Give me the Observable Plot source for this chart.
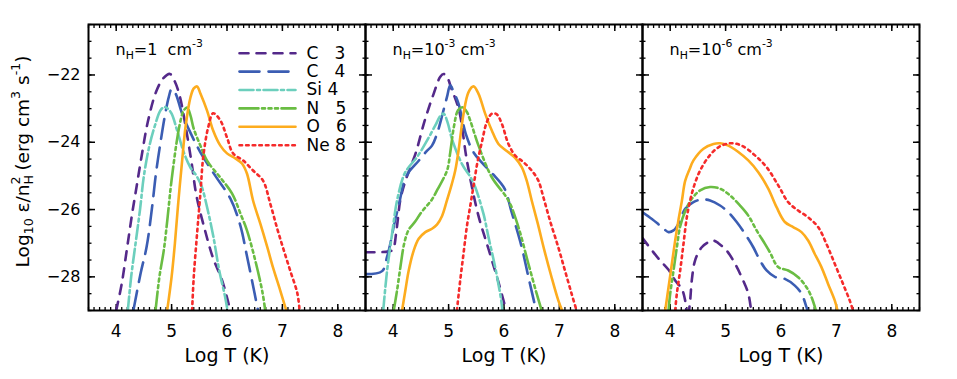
<!DOCTYPE html>
<html><head><meta charset="utf-8">
<script src="https://cdn.jsdelivr.net/npm/d3@7"></script>
<script src="https://cdn.jsdelivr.net/npm/@observablehq/plot@0.6"></script>
<style>
body{margin:0;background:#fff;}
#chart{width:957px;height:379px;}
</style></head><body><div id="chart"></div>
<script>
// ---------- data ----------
const panelKeys = ["1", "1e-3", "1e-6"];
const panelTitles = ["n_{H}=1\u00a0 cm^{-3}", "n_{H}=10^{-3} cm^{-3}", "n_{H}=10^{-6} cm^{-3}"];
const ionElements = ["C", "C", "Si", "N", "O", "Ne"];
const ionStages = ["3", "4", "4", "5", "6", "8"];
const xMajor = [4, 5, 6, 7, 8];
const yMajor = [-28, -26, -24, -22];
const xLabel = "Log T (K)";
const yLabel = "Log_{10} ε/n_{H}^{2} (erg cm^{3} s^{-1})";

// panel nH = 1 cm^-3  : [log T, log emissivity]
const n1_C3 = [[4.0,-29],[4.1,-28.2],[4.2,-27.1],[4.29,-26.1],[4.37,-25.3],[4.46,-24.4],[4.57,-23.4],[4.72,-22.5],[4.85,-22.1],[4.97,-21.97],[5.06,-22.2],[5.15,-22.65],[5.25,-23.5],[5.36,-24.6],[5.45,-25.6],[5.6,-26.6],[5.75,-27.45],[5.9,-28.05],[5.99,-28.55],[6.06,-29]];
const n1_C4 = [[4.31,-29],[4.44,-27.9],[4.55,-27.1],[4.65,-25.9],[4.72,-24.9],[4.8,-24.0],[4.88,-23.2],[4.95,-22.65],[5.0,-22.42],[5.07,-22.55],[5.19,-23.15],[5.35,-23.75],[5.52,-24.3],[5.79,-25.0],[6.06,-25.67],[6.24,-26.47],[6.35,-27.3],[6.45,-28.1],[6.56,-29]];
const n1_Si4 = [[4.21,-29],[4.27,-28.0],[4.35,-27.0],[4.43,-26.0],[4.5,-25.0],[4.6,-24.1],[4.7,-23.5],[4.8,-23.05],[4.87,-22.95],[4.93,-23.0],[5.0,-23.15],[5.1,-23.65],[5.22,-24.3],[5.34,-24.75],[5.45,-25.0],[5.54,-25.3],[5.65,-26.0],[5.75,-26.77],[5.86,-27.81],[5.96,-28.55],[6.01,-29]];
const n1_N5 = [[4.71,-29],[4.78,-28.0],[4.86,-27.2],[4.93,-26.2],[4.98,-25.4],[5.04,-24.6],[5.1,-23.9],[5.17,-23.3],[5.22,-23.05],[5.28,-22.97],[5.34,-23.2],[5.4,-23.6],[5.52,-24.1],[5.64,-24.55],[5.88,-25.05],[6.09,-25.52],[6.25,-26.15],[6.36,-26.62],[6.51,-27.51],[6.64,-28.46],[6.69,-29]];
const n1_O6 = [[4.92,-29],[5.0,-28.0],[5.06,-27.0],[5.12,-25.8],[5.19,-24.55],[5.25,-23.56],[5.34,-22.67],[5.4,-22.4],[5.46,-22.34],[5.52,-22.55],[5.64,-23.06],[5.75,-23.65],[5.88,-24.1],[6.0,-24.33],[6.15,-24.48],[6.27,-24.63],[6.36,-24.93],[6.47,-25.73],[6.6,-26.41],[6.73,-27.13],[6.83,-27.72],[6.96,-28.4],[7.07,-29]];
const n1_Ne8 = [[5.37,-29],[5.4,-28.0],[5.46,-26.71],[5.52,-25.52],[5.57,-24.45],[5.66,-23.56],[5.75,-23.14],[5.88,-23.35],[6.0,-23.86],[6.11,-24.33],[6.29,-24.54],[6.47,-24.84],[6.65,-25.14],[6.78,-25.82],[6.9,-26.53],[7.01,-27.13],[7.14,-27.81],[7.27,-28.49],[7.31,-29]];

// panel nH = 1e-3 cm^-3
const n2_C3 = [[3.5,-27.27],[3.9,-27.25],[3.99,-27.2],[4.06,-26.6],[4.13,-25.7],[4.22,-25.15],[4.31,-24.75],[4.41,-24.3],[4.57,-23.35],[4.73,-22.56],[4.85,-22.05],[4.91,-21.97],[4.97,-22.05],[5.05,-22.4],[5.19,-23.06],[5.33,-24.54],[5.53,-26.13],[5.72,-27.17],[5.9,-28.16],[6.04,-29]];
const n2_C4 = [[3.5,-27.92],[3.8,-27.83],[3.89,-27.4],[3.95,-27.0],[4.01,-26.5],[4.11,-25.8],[4.2,-25.15],[4.28,-24.89],[4.46,-24.55],[4.6,-24.27],[4.7,-24.1],[4.8,-23.7],[4.9,-23.1],[4.97,-22.66],[5.03,-22.31],[5.09,-22.5],[5.18,-22.86],[5.31,-23.75],[5.45,-24.3],[5.61,-24.62],[5.8,-24.95],[6.01,-25.38],[6.13,-26.03],[6.32,-27.12],[6.44,-28.0],[6.58,-29]];
const n2_Si4 = [[3.82,-29],[3.89,-27.81],[3.98,-26.72],[4.07,-25.73],[4.2,-24.95],[4.3,-24.7],[4.43,-24.44],[4.61,-23.95],[4.76,-23.5],[4.85,-23.22],[4.91,-23.15],[4.98,-23.4],[5.06,-23.9],[5.24,-24.64],[5.4,-25.05],[5.48,-25.33],[5.63,-26.13],[5.72,-26.82],[5.84,-27.71],[5.95,-28.7],[5.97,-29]];
const n2_N5 = [[4.01,-29],[4.07,-28.4],[4.13,-27.71],[4.2,-27.0],[4.28,-26.6],[4.4,-26.35],[4.5,-26.1],[4.6,-25.9],[4.7,-25.7],[4.8,-25.4],[4.9,-25.1],[4.98,-24.8],[5.03,-24.3],[5.1,-23.5],[5.17,-23.05],[5.25,-22.96],[5.33,-23.1],[5.39,-23.35],[5.54,-24.1],[5.78,-25.04],[6.08,-25.73],[6.26,-26.52],[6.44,-27.61],[6.59,-28.5],[6.68,-29]];
const n2_O6 = [[4.16,-29],[4.22,-28.4],[4.28,-27.81],[4.37,-27.22],[4.46,-26.87],[4.58,-26.67],[4.7,-26.57],[4.79,-26.45],[4.88,-26.2],[4.97,-25.73],[5.06,-25.23],[5.12,-24.84],[5.18,-24.24],[5.23,-23.6],[5.27,-23.15],[5.36,-22.51],[5.45,-22.34],[5.54,-22.56],[5.66,-23.15],[5.78,-23.65],[5.9,-24.05],[6.05,-24.26],[6.2,-24.46],[6.32,-24.74],[6.41,-25.14],[6.5,-25.73],[6.61,-26.42],[6.73,-27.22],[6.85,-27.96],[6.98,-28.7],[7.05,-29]];
const n2_Ne8 = [[5.15,-29],[5.21,-28.1],[5.27,-27.3],[5.33,-26.5],[5.39,-25.9],[5.45,-25.3],[5.52,-24.6],[5.6,-24.0],[5.69,-23.4],[5.78,-23.15],[5.87,-23.17],[5.96,-23.45],[6.08,-24.05],[6.2,-24.39],[6.35,-24.59],[6.5,-24.84],[6.62,-25.14],[6.71,-25.63],[6.83,-26.33],[6.98,-27.12],[7.1,-27.81],[7.22,-28.5],[7.31,-29]];

// panel nH = 1e-6 cm^-3 (Si 4 lies below the plotted range)
const n3_C3 = [[3.5,-26.85],[3.79,-27.46],[3.97,-27.79],[4.09,-28.11],[4.21,-28.36],[4.27,-28.7],[4.31,-29.3],[4.36,-28.7],[4.39,-28.1],[4.45,-27.51],[4.57,-27.12],[4.72,-26.95],[4.8,-26.93],[4.87,-27.0],[5.02,-27.22],[5.17,-27.61],[5.29,-28.01],[5.41,-28.5],[5.46,-29]];
const n3_C4 = [[3.5,-26.08],[3.67,-26.28],[3.85,-26.52],[3.97,-26.67],[4.06,-26.62],[4.15,-26.42],[4.27,-25.98],[4.42,-25.78],[4.57,-25.7],[4.72,-25.73],[4.9,-25.88],[5.05,-26.08],[5.2,-26.37],[5.35,-26.72],[5.5,-27.12],[5.62,-27.51],[5.74,-27.81],[5.89,-28.0],[6.07,-28.06],[6.25,-28.26],[6.37,-28.5],[6.46,-28.9],[6.48,-29]];
const n3_N5 = [[3.97,-29],[4.0,-28.5],[4.06,-27.81],[4.12,-27.12],[4.18,-26.5],[4.27,-26.05],[4.39,-25.68],[4.54,-25.43],[4.72,-25.33],[4.9,-25.38],[5.08,-25.58],[5.26,-25.88],[5.41,-26.18],[5.56,-26.62],[5.71,-27.02],[5.8,-27.27],[5.95,-27.71],[6.13,-27.81],[6.31,-28.01],[6.46,-28.31],[6.55,-28.6],[6.63,-29]];
const n3_O6 = [[3.91,-29],[3.97,-28.31],[4.03,-27.61],[4.09,-26.92],[4.15,-26.3],[4.21,-25.75],[4.27,-25.15],[4.35,-24.8],[4.42,-24.54],[4.6,-24.19],[4.78,-24.05],[4.9,-24.03],[5.05,-24.1],[5.23,-24.29],[5.41,-24.54],[5.59,-24.89],[5.77,-25.38],[5.92,-25.93],[6.07,-26.37],[6.22,-26.52],[6.37,-26.67],[6.49,-26.92],[6.61,-27.32],[6.73,-27.71],[6.85,-28.21],[6.97,-28.7],[7.02,-29]];
const n3_Ne8 = [[4.09,-29],[4.12,-28.5],[4.18,-27.81],[4.24,-27.02],[4.3,-26.23],[4.36,-25.73],[4.44,-25.25],[4.54,-24.84],[4.69,-24.44],[4.87,-24.15],[5.08,-24.03],[5.29,-24.1],[5.53,-24.39],[5.74,-24.74],[5.95,-25.28],[6.13,-25.78],[6.31,-26.03],[6.49,-26.23],[6.67,-26.52],[6.82,-27.02],[6.97,-27.61],[7.12,-28.21],[7.24,-28.7],[7.3,-29]];

const seriesByPanel = [
  [n1_C3, n1_C4, n1_Si4, n1_N5, n1_O6, n1_Ne8],
  [n2_C3, n2_C4, n2_Si4, n2_N5, n2_O6, n2_Ne8],
  [n3_C3, n3_C4, null, n3_N5, n3_O6, n3_Ne8]
];

// ---------- styles ----------
const ionColors = ["#54298a", "#3b5db3", "#6ccfbd", "#6abd43", "#fdac1e", "#f52a2a"];
const ionDashes = ["9,8", "20,9", "14,3.5,3,3.5", "19,3.5,3,3.5,3,3.5,3,3.5", "none", "2.6,4"];
const lineWidth = 2.6;

// ---------- tables ----------
const rows = [];
seriesByPanel.forEach((list, p) => list.forEach((pts, i) => {
  if (!pts) return;
  pts.forEach(([t, v]) => rows.push({panel: panelKeys[p], ion: i, t, v}));
}));
const xTickRows = panelKeys.flatMap(p => xMajor.map(t => ({panel: p, t})));
const yTickRows = yMajor.map(v => ({panel: panelKeys[0], v}));

const xMinor = d3.range(35, 86, 1).map(d => d / 10);
const yMinor = d3.range(-58, -40, 1).map(d => d / 2);
const noText = () => "";

const marks = [];
// inward ticks on all four sides of every panel
marks.push(
  Plot.axisX({anchor: "bottom", ticks: xMinor, tickSize: -3, tickFormat: noText, label: null, strokeWidth: 1.3}),
  Plot.axisX({anchor: "bottom", ticks: xMajor, tickSize: -6, tickFormat: noText, label: null, strokeWidth: 1.5}),
  Plot.axisX({anchor: "top", ticks: xMinor, tickSize: -3, tickFormat: noText, label: null, strokeWidth: 1.3}),
  Plot.axisX({anchor: "top", ticks: xMajor, tickSize: -6, tickFormat: noText, label: null, strokeWidth: 1.5}),
  Plot.axisY({anchor: "left", ticks: yMinor, tickSize: -3.5, tickFormat: noText, label: null, facetAnchor: null, strokeWidth: 1.3}),
  Plot.axisY({anchor: "left", ticks: yMajor, tickSize: -7, tickFormat: noText, label: null, facetAnchor: null, strokeWidth: 1.5}),
  Plot.axisY({anchor: "right", ticks: yMinor, tickSize: -3.5, tickFormat: noText, label: null, facetAnchor: null, strokeWidth: 1.3}),
  Plot.axisY({anchor: "right", ticks: yMajor, tickSize: -7, tickFormat: noText, label: null, facetAnchor: null, strokeWidth: 1.5})
);

// tick labels
marks.push(Plot.text(xTickRows, {fx: "panel", x: "t", frameAnchor: "bottom", dy: 14,
  text: d => String(d.t), lineAnchor: "top", textAnchor: "middle", fontSize: 17}));
marks.push(Plot.text(yTickRows, {fx: "panel", y: "v", frameAnchor: "left", dx: -8,
  text: d => (d.v < 0 ? "\u2212" : "") + Math.abs(d.v), textAnchor: "end", lineAnchor: "middle", fontSize: 16}));

// curves
ionElements.forEach((el, i) => {
  marks.push(Plot.line(rows.filter(r => r.ion === i), {
    fx: "panel", x: "t", y: "v", stroke: ionColors[i], strokeWidth: lineWidth,
    strokeDasharray: ionDashes[i], curve: "catmull-rom", clip: true
  }));
});

marks.push(Plot.frame({stroke: "black", strokeWidth: 2}));

// panel titles
marks.push(Plot.text(panelKeys, {fx: d => d, frameAnchor: "top-left", dx: 27, dy: 25,
  text: (d, i) => panelTitles[i], lineAnchor: "middle", textAnchor: "start", fontSize: 16}));

// x labels under every panel
marks.push(Plot.text(panelKeys, {fx: d => d, frameAnchor: "bottom", dy: 51,
  text: () => xLabel, lineAnchor: "bottom", textAnchor: "middle", fontSize: 19}));

// y label
marks.push(Plot.text([panelKeys[0]], {fx: d => d, frameAnchor: "left", dx: -65, dy: -6, rotate: -90,
  text: () => yLabel, lineAnchor: "middle", textAnchor: "middle", fontSize: 18.5}));

// legend in first panel
const legendShape = {draw(ctx, l) { ctx.moveTo(0, 0); ctx.lineTo(0, -l); }};
ionElements.forEach((el, i) => {
  const rowDy = 28.7 + i * 18.4;
  marks.push(Plot.vector([panelKeys[0]], {fx: d => d, frameAnchor: "top-left", dx: 151, dy: rowDy,
    length: 56, rotate: 90, anchor: "start", shape: legendShape,
    stroke: ionColors[i], strokeWidth: lineWidth, strokeDasharray: ionDashes[i]}));
  marks.push(Plot.text([panelKeys[0]], {fx: d => d, frameAnchor: "top-left", dx: 218, dy: rowDy,
    text: () => el + (el.length === 1 ? "\u00a0\u00a0 " : " ") + ionStages[i],
    lineAnchor: "middle", textAnchor: "start", fontSize: 17}));
});

const chart = Plot.plot({
  width: 957, height: 379,
  marginTop: 24, marginBottom: 69, marginLeft: 88, marginRight: 38,
  style: {fontFamily: "'DejaVu Sans', sans-serif", fontSize: "16px", background: "white", color: "black"},
  fx: {domain: panelKeys, padding: 0, axis: null, label: null},
  x: {domain: [3.5, 8.5]},
  y: {domain: [-29, -20.5]},
  marks
});
document.getElementById("chart").appendChild(chart);

// rich text: _{sub} and ^{sup}
function richify(root) {
  const NS = "http://www.w3.org/2000/svg";
  root.querySelectorAll("text").forEach(t => {
    const s = t.textContent;
    if (!/[_^]\{/.test(s)) return;
    while (t.firstChild) t.removeChild(t.firstChild);
    const re = /([_^])\{([^}]*)\}/g;
    let last = 0, m, prev = null, prevEnd = -1;
    const add = (str) => { const ts = document.createElementNS(NS, "tspan"); ts.textContent = str; t.appendChild(ts); return ts; };
    while ((m = re.exec(s))) {
      if (m.index > last) { add(s.slice(last, m.index)); prev = null; }
      const ts = add(m[2]);
      ts.setAttribute("font-size", "68%");
      ts.setAttribute("baseline-shift", m[1] === "_" ? "-0.35em" : "0.75em");
      if (m[1] === "^" && prev && prev.kind === "_" && prevEnd === m.index) {
        ts.setAttribute("dx", -prev.el.getComputedTextLength());
      }
      prev = {kind: m[1], el: ts};
      last = re.lastIndex; prevEnd = last;
    }
    if (last < s.length) add(s.slice(last));
  });
}
richify(chart);
</script></body></html>
